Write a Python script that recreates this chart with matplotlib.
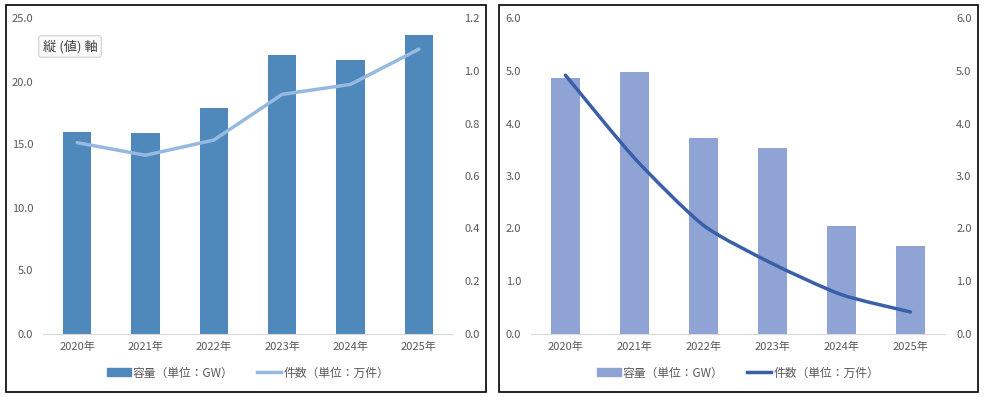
import numpy as np
import matplotlib.pyplot as plt
from matplotlib.patches import Rectangle, PathPatch
from matplotlib.path import Path
from matplotlib.lines import Line2D

plt.rcParams['font.family'] = ['Noto Sans CJK JP', 'DejaVu Sans']

years = ['2020年', '2021年', '2022年', '2023年', '2024年', '2025年']

# left chart
cap_left = [16.0, 15.9, 17.9, 22.1, 21.7, 23.7]
cnt_left = [0.727, 0.679, 0.737, 0.911, 0.949, 1.083]
left_ticks = [0, 5, 10, 15, 20, 25]
left_ticks2 = [0, 0.2, 0.4, 0.6, 0.8, 1.0, 1.2]

# right chart
cap_right = [4.86, 4.98, 3.72, 3.53, 2.04, 1.66]
cnt_right = [4.92, 3.34, 2.06, 1.33, 0.74, 0.41]
right_ticks = [0, 1, 2, 3, 4, 5, 6]

lab_cap = '容量（単位：GW）'
lab_cnt = '件数（単位：万件）'

W, H = 984, 397
gray = '#595959'


def px(x0, y0, x1, y1):
    return [x0 / W, 1 - y1 / H, (x1 - x0) / W, (y1 - y0) / H]


def smooth_path(xs, ys, k=9.0):
    # light Catmull-Rom smoothing, similar to Excel's smoothed line
    pts = np.column_stack([xs, ys]).astype(float)
    n = len(pts)
    verts = [pts[0]]
    codes = [Path.MOVETO]
    for i in range(n - 1):
        p0 = pts[i - 1] if i > 0 else pts[i]
        p1 = pts[i]
        p2 = pts[i + 1]
        p3 = pts[i + 2] if i + 2 < n else pts[i + 1]
        c1 = p1 + (p2 - p0) / k
        c2 = p2 - (p3 - p1) / k
        verts += [c1, c2, p2]
        codes += [Path.CURVE4] * 3
    return Path(verts, codes)


def style(ax, ticks, pad):
    for s in ax.spines.values():
        s.set_visible(False)
    ax.tick_params(length=0, labelsize=8, labelcolor=gray, pad=pad)
    ax.set_yticks(ticks)
    ax.set_yticklabels(['%.1f' % t for t in ticks])


fig = plt.figure(figsize=(W / 100, H / 100), dpi=100)

for box in [(6, 5, 486, 392), (499, 5, 978, 392)]:
    x0, y0, x1, y1 = box
    fig.patches.append(Rectangle((x0 / W, 1 - y1 / H), (x1 - x0) / W, (y1 - y0) / H,
                                 transform=fig.transFigure, fill=False,
                                 edgecolor='black', linewidth=1.2))

x = np.arange(len(years))

# ---- left
ax1 = fig.add_axes(px(43, 18.5, 453, 333.5))
ax1.bar(x, cap_left, width=0.41, color='#4F88BB', zorder=2)
ax1.set_xlim(-0.5, 5.5)
ax1.set_ylim(0, 25)
style(ax1, left_ticks, 7)
ax1.spines['bottom'].set_visible(True)
ax1.spines['bottom'].set_color('#D9D9D9')
ax1.set_xticks(x)
ax1.set_xticklabels(years)
ax1.tick_params(axis='x', pad=6)
ax1b = ax1.twinx()
ax1b.plot(x, cnt_left, color='#96B9E1', linewidth=2.5, solid_capstyle='round', zorder=3)
ax1b.set_ylim(0, 1.2)
style(ax1b, left_ticks2, 8)
fig.text(70 / W, 1 - 46.5 / H, '縦 (値) 軸', ha='center', va='center',
         fontsize=9.5, color='#404040',
         bbox=dict(boxstyle='round,pad=0.3,rounding_size=0.2', fc='#FAFAFA', ec='#D0D0D0', lw=0.8))

h1 = [Rectangle((0, 0), 1, 1, color='#4F88BB'),
      Line2D([], [], color='#96B9E1', linewidth=2.5)]
ax1.legend(h1, [lab_cap, lab_cnt], loc='center', bbox_to_anchor=(0.5, -0.125),
           ncol=2, frameon=False, fontsize=8.5, labelcolor=gray, handlelength=2.0,
           handleheight=0.6, handletextpad=0.2, columnspacing=2.0)

# ---- right
ax2 = fig.add_axes(px(531, 18.5, 945, 333.5))
ax2.bar(x, cap_right, width=0.41, color='#8FA4D4', zorder=2)
ax2.set_xlim(-0.5, 5.5)
ax2.set_ylim(0, 6)
style(ax2, right_ticks, 7)
ax2.spines['bottom'].set_visible(True)
ax2.spines['bottom'].set_color('#D9D9D9')
ax2.set_xticks(x)
ax2.set_xticklabels(years)
ax2.tick_params(axis='x', pad=6)
ax2b = ax2.twinx()
ax2b.set_ylim(0, 6)
ax2b.add_patch(PathPatch(smooth_path(x, cnt_right), fill=False, edgecolor='#3A5EA8',
                         linewidth=2.5, capstyle='round', zorder=3))
style(ax2b, right_ticks, 8)

h2 = [Rectangle((0, 0), 1, 1, color='#8FA4D4'),
      Line2D([], [], color='#3A5EA8', linewidth=2.5)]
ax2.legend(h2, [lab_cap, lab_cnt], loc='center', bbox_to_anchor=(0.5, -0.125),
           ncol=2, frameon=False, fontsize=8.5, labelcolor=gray, handlelength=2.0,
           handleheight=0.6, handletextpad=0.2, columnspacing=2.0)

fig.savefig('out.png', dpi=100)
